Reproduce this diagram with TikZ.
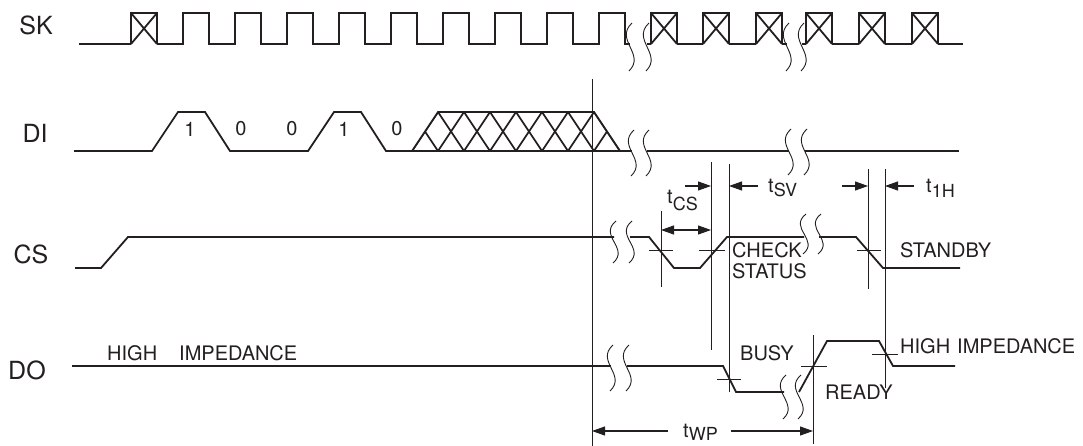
\documentclass[tikz,border=0pt]{standalone}
\usepackage{fontspec}
\setmainfont{TeX Gyre Heros}
\usetikzlibrary{arrows.meta}

\definecolor{ink}{RGB}{35,31,32}

\tikzset{
  wave/.style={line width=1.8pt, ink, line join=miter},
  guide/.style={line width=0.9pt, ink},
  dimarrow/.style={line width=1.1pt, ink, -{Triangle[length=13pt,width=9pt]}},
  signame/.style={font=\fontsize{25}{28}\selectfont, text=ink},
  lbl/.style={font=\fontsize{20}{21}\selectfont, text=ink, inner sep=0pt},
}

% break mark: x, y centre, half height
\newcommand{\wavebreak}[3]{\draw[guide] (#1+2,#2-#3) .. controls (#1-16,#2-0.3*#3) and (#1+16,#2+0.3*#3) .. (#1-1,#2+#3);}
\newcommand{\sub}[2]{\raisebox{-#1pt}{\fontsize{18}{19}\selectfont #2}}

\begin{document}
\begin{tikzpicture}[x=1pt, y=-1pt]
\useasboundingbox (0,0) rectangle (1083,446);

% signal names
\node[signame] (sk) at (36,25) {SK};
\node[signame] (di) at (35,133) {DI};
\node[signame] (cs) at (31,254) {CS};
\node[signame] (do) at (27,370) {DO};

% SK
\begin{scope}[wave]
\draw (79,44) -- (131,44);
\draw (157,44) \foreach \x in {183,235,...,599} { -- (\x,44) -- (\x,13) -- (\x+26,13) -- (\x+26,44) } -- (630,44);
\foreach \x in {131,651,703,756,806,859,912}
  \draw (\x,44) -- (\x,13) -- (\x+26,13) -- (\x+26,44) (\x,13) -- (\x+26,44) (\x,44) -- (\x+26,13);
\draw (647,44) -- (651,44);
\draw (677,44) -- (703,44);
\draw (729,44) -- (756,44);
\draw (782,44) -- (787,44);
\draw (802,44) -- (806,44);
\draw (832,44) -- (859,44);
\draw (885,44) -- (912,44);
\draw (938,44) -- (963,44);
\end{scope}
\wavebreak{630}{47}{24} \wavebreak{647}{47}{24}
\wavebreak{787}{47}{24} \wavebreak{802}{47}{24}

% DI
\begin{scope}[wave]
\draw (74,151) -- (152,151) -- (178,112) -- (205,112) -- (230,151) -- (308,151) -- (334,112) -- (361,112) -- (386,151) -- (412,151);
\draw (620,151) -- (632,151);
\draw (647,151) -- (789,151);
\draw (805,151) -- (959,151);
\end{scope}
\begin{scope}
\clip (412,151) -- (438,112) -- (594,112) -- (620,151) -- cycle;
\foreach \k in {-1,...,7} {
  \draw[wave, line width=1.7pt] (438+26*\k,151) -- (464+26*\k,112);
  \draw[wave, line width=1.7pt] (438+26*\k,151) -- (412+26*\k,112);
}
\end{scope}
\draw[wave] (412,151) -- (438,112) -- (594,112) -- (620,151);
\draw[wave, line width=2.8pt] (412,151) -- (620,151);
\wavebreak{632}{153}{23} \wavebreak{647}{153}{23}
\wavebreak{789}{152}{23} \wavebreak{805}{152}{23}

\node[lbl] (d1) at (190,129) {1};
\node[lbl] (d2) at (241,129) {0};
\node[lbl] (d3) at (292,129) {0};
\node[lbl] (d4) at (344,129) {1};
\node[lbl] (d5) at (397,129) {0};

% CS
\begin{scope}[wave]
\draw (75,268) -- (101,268) -- (128,237) -- (614,237);
\draw (630,237) -- (649,237) -- (674,268) -- (700,268) -- (727,237) -- (804,237);
\draw (819,237) -- (856,237) -- (883,268) -- (960,268);
\end{scope}
\wavebreak{614}{242}{21} \wavebreak{630}{242}{21}
\wavebreak{804}{234}{20} \wavebreak{819}{234}{20}

% DO
\begin{scope}[wave]
\draw (72,366) -- (611,366);
\draw (627,366) -- (723,366) -- (736,392) -- (784,392);
\draw (799,392) -- (827,341) -- (879,341) -- (893,366) -- (955,366);
\end{scope}
\wavebreak{611}{368}{23} \wavebreak{627}{368}{23}
\wavebreak{784}{397}{22} \wavebreak{799}{397}{22}

% guides
\begin{scope}[guide]
\draw (592,79) -- (592,446);
\draw (661,211) -- (661,287);
\draw (711,162) -- (711,350);
\draw (729,164) -- (729,392);
\draw (868,169) -- (868,289);
\draw (885,169) -- (885,388);
\draw (813,335) -- (813,444);
% ticks
\draw (649,250) -- (673,250);
\draw (699,250) -- (725,250);
\draw (857,250) -- (881,250);
\draw (717,379) -- (741,379);
\draw (801,366) -- (827,366);
\draw (872,354) -- (898,354);
\end{scope}

% timing arrows
\draw[dimarrow] (685,186) -- (711,186);
\draw[dimarrow, {Triangle[length=13pt,width=9pt]}-{Triangle[length=13pt,width=9pt]}] (661,230) -- (711,230);
\draw[dimarrow] (758,186) -- (729,186);
\draw[dimarrow] (842,186) -- (868,186);
\draw[dimarrow] (914,186) -- (885,186);
\draw[dimarrow] (668,431) -- (592,431);
\draw[dimarrow] (731,431) -- (813,431);

\node[lbl, anchor=base west] (tcs) at (667,204) {t\sub{7}{CS}};
\node[lbl, anchor=base west] (tsv) at (768,193) {t\sub{4}{SV}};
\node[lbl, anchor=base west] (tih) at (926,193) {t\sub{5}{1H}};
\node[lbl, anchor=base west] (twp) at (683,437) {t\sub{3}{WP}};

% state labels
\node[lbl, anchor=west, align=left] (chk) at (732,261) {CHECK\\STATUS};
\node[lbl, anchor=west] (stby) at (900,250) {STANDBY};
\node[lbl, anchor=west] (busy) at (740,353) {BUSY};
\node[lbl, anchor=west] (rdy) at (825,392) {READY};
\node[lbl, anchor=west] (hiz2) at (900,346) {HIGH\hspace{7pt}IMPEDANCE};
\node[lbl, anchor=west] (hiz1) at (107,353) {HIGH\hspace{22pt}IMPEDANCE};

\end{tikzpicture}
\end{document}
